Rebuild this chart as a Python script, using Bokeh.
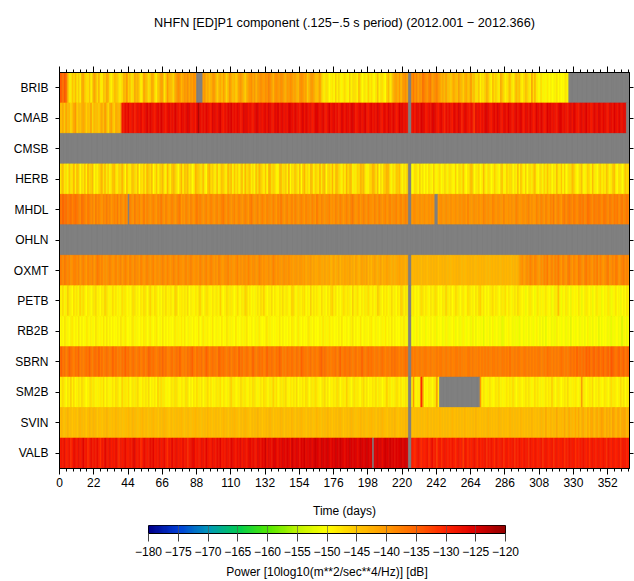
import numpy as np
from bokeh.plotting import figure
from bokeh.models import (ColumnDataSource, LinearColorMapper, Range1d, FactorRange,
                          SingleIntervalTicker, FixedTicker, LinearAxis, CategoricalAxis)
from bokeh.transform import transform
from bokeh.embed import file_html
from bokeh.resources import INLINE

# ---------------- data ----------------
title_text = "NHFN [ED]P1 component (.125\u2212.5 s period) (2012.001 \u2212 2012.366)"
x_label = "Time (days)"
cbar_label = "Power [10log10(m**2/sec**4/Hz)] [dB]"
stations = ["BRIB", "CMAB", "CMSB", "HERB", "MHDL", "OHLN", "OXMT",
            "PETB", "RB2B", "SBRN", "SM2B", "SVIN", "VALB"]
n_days = 366
day_tick_step = 22
cbar_ticks = [-180, -175, -170, -165, -160, -155, -150, -145, -140, -135, -130, -125, -120]
cbar_tick_labels = ["\u2212180", "\u2212175", "\u2212170", "\u2212165", "\u2212160", "\u2212155",
                    "\u2212150", "\u2212145", "\u2212140", "\u2212135", "\u2212130", "\u2212125",
                    "\u2212120"]

# daily power, one character per day: index in this alphabet -> -160 + index dB; "." = no data
code_alphabet = "0123456789abcdefghijklmnopqrstuvwxyzABCDE"
BRIB = """
qpnqo hcbfd gcebh iedcf bejgd hcbfe ihcbd gfecb dhgke fcdig
hebdj gfcei hdbfg jicek hgfdi jlkhi kjlik jlk.. ..jkh ighjk
hegif jhdgk ifheg jkige hjkli khjkl kjlkm ljhkl kjlki hkjlk
ijhgk lkije hjkig fhjec bdcab caebd bacdb aebcd cbgda bcaeb
dbacf bcdba egcdh ijhkg jkli. .lnkm jlkom lkmnj klmkj higjf
gehig fjhge hifgk egcdf bdceh fcbgd ecbif dbceg cbdhe gcbdf
ecbjd hcbad abaca baabc abaab ca... ..... ..... ..... .....
..... ..... ..... .
"""
CMAB = """
hgiej fhdgi kegfh ihegf jdhfg ehifk gdhjf eihgj wvxwy vwxuw
xwyvw xzwyx wvxyw zxwvx ywxwz xwvyx wxzyw wxvyC xwxwy xwvzx
xwyzw vxwyx zwxwy xvwzx ywxwv xyzwx wxywz xwvyx zwxyw xwzyx
wyxwv xzwyx wxvwy zxwxy wvxzw xywxv wzxwy xwyzx vwxyw xzwvx
ywxwz xwvyx wzxwy xvwzx ywxw. .wxvy xwzyx vwxwy zxwvx ywuxw
xwvyx wzxuw yxwvx wsywx vxwyz xwvxy wzxwv yxwzx wvxyw xzwvy
xwyxv wzxwy xvwzx ywxwv xzywx wvxyw zxwvx ywxzw xvwyx wzxwy
xwvyx wzxwy xwyx. .
"""
CMSB = "." * 366
HERB = """
cegbd afcdh bgead cfbhd egacb dfhcg beadf gcbed hdagc befdc
gadcf bhedg acfbd egcah dbfge cadhb fegcd abhfe dcgba fhdec
bgadf ecbhd gafce bdgah cefbd agche dbfag hcedb afgcd ebhad
cfdbg aehcd bgfae dchbf gadec hbfgd caebh dfgac bedhf gcabd
ehfcg adbef hgcad bfegc adbe. .abdc aebca cadba ebacd abdca
dcbae acdbf bacdg eabcd abgca dcabe cbadf abecd dacbg bfcae
acdbe gbacd aebfc dacbg cbfae abdcg ecabd fbace dagcb acebd
bfdac egbad cabfd e
"""
MHDL = """
onpno mnomn onmlo nmlnm lmknl mlkml nlmkl mlnkm lkml. mlknl
lmkln kmlkl mlkml nlkml klmlk lmnkl kmlkm lkmnl mlklm klmlk
lmklm nlkml klmkl mlklm lkmnl klmkl mlkml lkmlk mlnlk lmklm
kmlkl mlkml lkmlk nlkml kllmk lkmlk mlklm lkmnl klmkl mlkml
lkmlk mlklm klmkl lmklm klml. .kllk klkkl kklkl k..kl lkklk
klkkl kklkl lkmkk klkkl kkmlk lkkml kllkk mkklk lkkml kkllk
lmklk kmlkm lkmlk mlnkl mlkmn lmnml nmlmn mnlmo nmlnm mnmln
nmlnm lnmnl mnlmn m
"""
OHLN = "." * 366
OXMT = """
nmlnm lmklm mlmkl mlkml lmkln mlmkl klmlk lmklm klmlk mlkml
lkmlk lmlkl mkllk lmlkm lklml kmllk lmklm lkllk mlklm klmlk
lkmlk kllmk lkklm klkll kmlkl lkkml klkkl kkmlk lkkkl kklkk
jkkjk kjkij jkiji ijjii jiijh ijhij hiiji ijiih jihij iijhi
hijih ijhii jiihi hiiji iihi. .hhhh hhghh hghhh hhhgh hhhhg
hghhh hhhgh ghhhh hhghh hhhhg hghhh hhhgh hhhhh ghhhh jkljk
lkmlk mlkjl kmlnk lmkml nlkml kmnlk mlknm lkmnl mlkml nkmlk
lmnkl mlnmk lmnlm l
"""
PETB = """
cbdab ecbad bcaeb dbacb abcdb bacbe cbabd bcaba dbcab abdcb
bacbd cabeb bdcab acbdb bcbae dabcb cbdab bacbc ebabd cbacb
bcaeb abdcb cbabd bacbe dbcab abcbd cebab bdacb acbdb bcabe
dbacb bcdab aebcb cbadb bacbd ebcab abdcb cbaeb bdbac acbdb
bcabe dbacb cabdb bacbe dbcb. .bcab abdcb cbacb bdcab acbeb
bcabd cbabc abdcb bacbd ebcab abcdb cbabc bdacb abcbd cbab9
abcba 9bcab abcba b9acb gb9ba cba9b abacb 9abcb ab9ab cab9a
bacb9 abcab 9abac b
"""
RB2B = """
abacb aabca bacab aacba baacb abaca cabab aabac bacaa abcab
aabac baaca abcaa acaba baaac abaca caaba abaac aacab baaca
abaac aacba baaca aabab caaba abaca aabca baaab acaba aabac
baaca abaab caaba aabac abaca baaab acaab aabca baaca abaab
caaba aabac abaca baaab acaa. .a9ab a9aab 9aaba ab9aa a9aba
9aab9 aa9ab a9aa9 ba9aa 9a8aa a9ab9 aa9a8 9aaba a9a9a 8aa9a
a9aa9 aba9a 9a8aa a9a9b aa9aa 9aa8a a9aa9 aa9ab 9a9aa a8a9a
aa9a8 a9aa9 a7aa9 a
"""
SBRN = """
opnom nponm onpmn mnonp nmoon pnomn onmnp nomnm onpno mnonm
nomno mnpon onmno npnom mnomn onpnm nmono pnmon nomnp omnon
nmpon onmno mnonm pnomn onmnp nmnon omnpn nonmo npomn monno
nmonm ponnm nomnn mnopn onmnm nnomn pmnon nonmn omnnp nmnon
onmnn mnonm nnmon onnmn mnon. .nmnm mnmmn nmmnm mmnmn nmmnm
mnmmn nmnmm mmnnm nmmmn mnmnm nmmnn mnmmn nmnmo mmnmn nmmnn
mnmnm nmnnm mnmon nmnmn mnonm nmnon onpno nonpo pnopn opnop
nopnq ponop nopno p
"""
SM2B = """
bcdba cbebd abcbd cbabc dbcab bcbda cbabc bdcba ebcbd abcbc
dbacb cbdab bcaeb dbcab abcbd cbacb bdcab acbdb bcabc dbcab
bcbda cbabc ebcab bdcbc abcbd cbabc bdcba cbebd abcbc dbacb
cbdab bcbdc abcbd cbabc dbcab bcbdc abcbe cbabd bcbac dbcab
bcbda cbabc ebcab bdcbc abcb. .bkba bbuka bacba bckb. .....
..... ..... ..... ..... kbcba bcbab cbdab abcbc bdbab cbabc
bcbab dbcab abcbc bebab cbabc bdbab bcbab kcbab cbdab bcbab
cbabd bcbab dbcab c
"""
SVIN = """
ghgfg hggfg gfghg ggfgh gghgf ggfgg hgfgg ghggf gfggh gghgg
fgghg ggfgg hggfg gghgg fggfg ggghg fgggf gghgg gfggg hggfg
gggfg hggfg gghgg fgggh ggfgg gghgg fgggg hgfgg gghgf ggggh
gfggg hggfg gggfg hggfg gghgg fgggg hgfgg gghgg fgghg ggfgg
hggfg gghgg fgggg hgfgg gghg. .gggg ggggg ghggg ggggh ggggg
gghgg ggggg hgggg gghgg ggggg hgggg gghgg ggggh ggggg ghggg
ggghg ggggh ggigg hgggi gghgi ggigh gigig higgi giigh igiji
gihig jigii giiig i
"""
VALB = """
vwvxu vwtvx wvxvw yvwtv xvwvx vtwvy wvxvw vxvtw vwxvv wvxyv
vwtvx wvvxw yvwvx vwxvt wvyvw xvwvx vwtvw xyvwv vxwvy wvvxw
vxwyv wvxwv yxwvx wyvxw vxywx wvyxw yxAwy xwyzx wyxzy xzywA
yxzyw zyAxy yzxzA zyxAz yzAyx zyAzy Azyxz yAzyz zxyAz yzAzy
z.zyA yzxzA zyAyz xzyzA yzAz. .vutv wvtvu vwtvx uvsvw tvwvu
vuwvt vwuvs wvtvu vwvtw uvvwt vuwvt wvuvw tvwuv vwtvu wvuwv
vtwvu wvuvw tvwvu vwtvw uvvwt vuwvv wtvuv vwvuw tvwvu vwuvw
vtwvu wvuvw tvwvu v
"""
station_codes = [BRIB, CMAB, CMSB, HERB, MHDL, OHLN, OXMT, PETB, RB2B, SBRN, SM2B, SVIN, VALB]

# colour scale anchors (dB -> colour)
cmap_db = [-180, -175, -170, -165, -160, -155, -150, -145, -140, -135, -130, -125, -120]
cmap_hex = ["#00008c", "#0040d8", "#0098b8", "#00cc50", "#50e800", "#c0f400", "#ffff00",
            "#ffc600", "#ff9900", "#ff6400", "#ff2400", "#dc0000", "#960000"]

# ---------------- build ----------------
def decode(name, s):
    s = "".join(s.split())
    if len(s) != n_days:
        raise ValueError(f"{name}: {len(s)} days")
    return [np.nan if c == "." else -160.0 + code_alphabet.index(c) for c in s]

xs, ys, vs = [], [], []
for name, code in zip(stations, station_codes):
    vals = decode(name, code)
    for d, v in enumerate(vals):
        xs.append(d + 0.5)
        ys.append(name)
        vs.append(v)

rgb = np.array([[int(h[i:i + 2], 16) for i in (1, 3, 5)] for h in cmap_hex], dtype=float)
lev = np.linspace(cmap_db[0], cmap_db[-1], 256)
palette = ["#%02x%02x%02x" % tuple(int(round(np.interp(l, cmap_db, rgb[:, k]))) for k in range(3))
           for l in lev]
mapper = LinearColorMapper(palette=palette, low=cmap_db[0], high=cmap_db[-1], nan_color="#808080")

FONT = "Liberation Sans"
W = 634

def style_axis(ax, labels=True):
    ax.axis_line_color = "black"
    ax.major_tick_line_color = "black"
    ax.minor_tick_line_color = "black"
    ax.major_tick_in = 0
    ax.minor_tick_in = 0
    ax.major_label_text_font = FONT
    ax.axis_label_text_font = FONT
    ax.axis_label_text_font_style = "normal"
    ax.axis_label_text_color = "black"
    ax.axis_label_text_font_size = "12px"
    if labels:
        ax.major_label_text_font_size = "12px"
        ax.major_label_text_color = "black"
    else:
        ax.major_label_text_font_size = "0px"
        ax.major_label_text_color = None
        ax.major_label_standoff = 0

# ---- heat map ----
H1 = 520
p = figure(width=W, height=H1, x_range=Range1d(0, n_days), y_range=FactorRange(factors=stations[::-1]),
           output_backend="svg", toolbar_location=None,
           min_border_left=59, min_border_right=5, min_border_top=72, min_border_bottom=50,
           background_fill_color="#808080", border_fill_color="white",
           outline_line_color="black", outline_line_width=1)
src = ColumnDataSource(dict(x=xs, y=ys, v=vs))
p.rect(x="x", y="y", width=1, height=1, source=src,
       fill_color=transform("v", mapper), line_color=transform("v", mapper), line_width=0.6)
p.grid.visible = False

xb = p.xaxis[0]
xb.ticker = SingleIntervalTicker(interval=day_tick_step, num_minor_ticks=5)
style_axis(xb)
xb.major_tick_out = 6
xb.minor_tick_out = 3
xb.major_label_standoff = 3
xb.axis_label = x_label
xb.axis_label_standoff = 14

# top axis: ticks only, carries the chart title as its label
xt = LinearAxis(ticker=SingleIntervalTicker(interval=day_tick_step, num_minor_ticks=5))
style_axis(xt, labels=False)
xt.major_tick_out = 6
xt.minor_tick_out = 3
xt.axis_label = title_text
xt.axis_label_text_font_size = "12.7px"
xt.axis_label_standoff = 37
p.add_layout(xt, "above")

yl = p.yaxis[0]
style_axis(yl)
yl.major_tick_out = 4
yl.major_label_standoff = 7

yr = CategoricalAxis()
style_axis(yr, labels=False)
yr.major_tick_out = 4
p.add_layout(yr, "right")

# ---- colour bar ----
H2 = 61
p2 = figure(width=W, height=H2, x_range=Range1d(cmap_db[0], cmap_db[-1]), y_range=Range1d(0, 1),
            output_backend="svg", toolbar_location=None, y_axis_location=None,
            min_border_left=148, min_border_right=129, min_border_top=5, min_border_bottom=48,
            outline_line_color="black", border_fill_color="white")
grad = np.array([np.linspace(cmap_db[0], cmap_db[-1], 300)])
p2.image(image=[grad], x=cmap_db[0], y=0, dw=cmap_db[-1] - cmap_db[0], dh=1, color_mapper=mapper)
p2.grid.visible = False
p2.xgrid.visible = True
p2.xgrid.ticker = FixedTicker(ticks=cbar_ticks)
p2.xgrid.grid_line_color = "#555555"
p2.xgrid.grid_line_alpha = 0.6
p2.xgrid.level = "overlay"
cx = p2.xaxis[0]
cx.ticker = FixedTicker(ticks=cbar_ticks, minor_ticks=[])
cx.major_label_overrides = {t: s for t, s in zip(cbar_ticks, cbar_tick_labels)}
style_axis(cx)
cx.major_tick_line_color = "#444444"
cx.major_tick_out = 8
cx.major_label_standoff = 5
cx.axis_label = cbar_label
cx.axis_label_standoff = 6

open("out.html", "w").write(file_html([p, p2], INLINE))
